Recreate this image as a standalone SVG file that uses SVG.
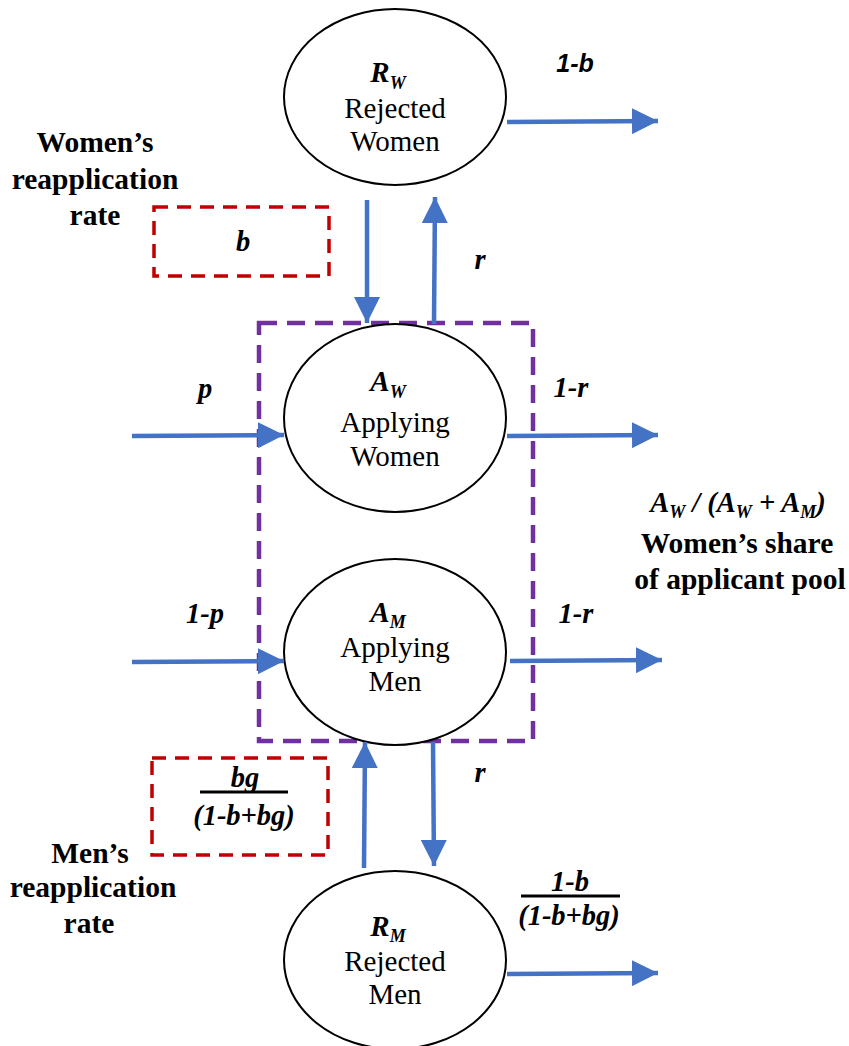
<svg xmlns="http://www.w3.org/2000/svg" width="849" height="1046" viewBox="0 0 849 1046">
<style>
.node{fill:#fff;stroke:#000;stroke-width:2}
.conn{stroke:#4472C4;stroke-width:4.5;fill:none;marker-end:url(#ah)}
.t{font-family:"Liberation Serif","Times New Roman",serif;font-size:29px;fill:#000;text-anchor:middle}
.bi{font-family:"Liberation Serif","Times New Roman",serif;font-size:28.5px;font-weight:bold;font-style:italic;fill:#000;text-anchor:middle}
.nl{font-size:29px}
.sub{font-size:18px}
.lab{font-family:"Liberation Serif","Times New Roman",serif;font-size:29.5px;font-weight:bold;fill:#000;text-anchor:middle}
.sans{font-family:"Liberation Sans",Arial,sans-serif;font-size:25px;font-weight:bold;font-style:italic;fill:#000;text-anchor:middle}
.red{fill:none;stroke:#C00000;stroke-width:3.5;stroke-dasharray:14 9}
.pur{fill:none;stroke:#7030A0;stroke-width:4.5;stroke-dasharray:18 10}
.frac{stroke:#000;stroke-width:3}
</style>
<defs>
<marker id="ah" markerUnits="userSpaceOnUse" markerWidth="28" markerHeight="26" refX="26" refY="13" orient="auto">
<path d="M0,0 L26,13 L0,26 Z" fill="#4472C4"/>
</marker>
</defs>
<rect width="849" height="1046" fill="#fff"/>

<g id="group-box">
<rect class="pur" x="259" y="323" width="274" height="418"/>
</g>
<g id="box-women-rate">
<rect class="red" x="154" y="207" width="175" height="69"/>
<text class="bi" x="243" y="251">b</text>
</g>
<g id="box-men-rate">
<rect class="red" x="152" y="758" width="176" height="97"/>
<text class="bi" x="245" y="787">bg</text>
<line class="frac" x1="200" y1="792" x2="288" y2="792"/>
<text class="bi" x="244" y="825">(1-b+bg)</text>
</g>

<g id="node-rw">
<ellipse class="node" cx="395" cy="97" rx="111" ry="88"/>
<text class="bi nl" x="388" y="82">R<tspan class="sub" dy="7">W</tspan></text>
<text class="t" x="395" y="118">Rejected</text>
<text class="t" x="395" y="151">Women</text>
</g>
<g id="node-aw">
<ellipse class="node" cx="395" cy="418" rx="111" ry="94"/>
<text class="bi nl" x="388" y="391">A<tspan class="sub" dy="7">W</tspan></text>
<text class="t" x="395" y="432">Applying</text>
<text class="t" x="395" y="466">Women</text>
</g>
<g id="node-am">
<ellipse class="node" cx="395" cy="652" rx="111" ry="93"/>
<text class="bi nl" x="388" y="622">A<tspan class="sub" dy="6">M</tspan></text>
<text class="t" x="395" y="657">Applying</text>
<text class="t" x="395" y="691">Men</text>
</g>
<g id="node-rm">
<ellipse class="node" cx="395" cy="960" rx="111" ry="89"/>
<text class="bi nl" x="388" y="936">R<tspan class="sub" dy="6">M</tspan></text>
<text class="t" x="395" y="971">Rejected</text>
<text class="t" x="395" y="1004">Men</text>
</g>

<g id="connectors">
<line class="conn" x1="367" y1="200" x2="367" y2="323"/>
<line class="conn" x1="434" y1="324" x2="435" y2="197"/>
<line class="conn" x1="507" y1="122" x2="658" y2="121"/>
<line class="conn" x1="132" y1="436" x2="284" y2="435"/>
<line class="conn" x1="507" y1="436" x2="658" y2="435"/>
<line class="conn" x1="132" y1="662" x2="284" y2="661"/>
<line class="conn" x1="510" y1="661" x2="662" y2="660"/>
<line class="conn" x1="364" y1="868" x2="365" y2="742"/>
<line class="conn" x1="433" y1="742" x2="434" y2="866"/>
<line class="conn" x1="507" y1="974" x2="658" y2="973"/>
</g>

<g id="labels">
<text class="sans" x="575" y="72">1-b</text>
<text class="bi" x="480" y="269">r</text>
<text class="bi" x="205" y="398">p</text>
<text class="bi" x="571" y="397">1-r</text>
<text class="bi" x="205" y="623">1-p</text>
<text class="bi" x="576" y="623">1-r</text>
<text class="bi" x="480" y="782">r</text>
<text class="bi" x="570" y="891">1-b</text>
<line class="frac" x1="521" y1="896" x2="620" y2="896"/>
<text class="bi" x="569" y="925">(1-b+bg)</text>
<text class="lab" x="95" y="152">Women’s</text>
<text class="lab" x="95" y="189">reapplication</text>
<text class="lab" x="95" y="225">rate</text>
<text class="lab" x="90" y="863">Men’s</text>
<text class="lab" x="93" y="897">reapplication</text>
<text class="lab" x="89" y="933">rate</text>
<text class="bi" x="738" y="512" font-size="30">A<tspan class="sub" dy="6" font-size="19">W</tspan><tspan dy="-6"> / (A</tspan><tspan class="sub" dy="6">W</tspan><tspan dy="-6"> + A</tspan><tspan class="sub" dy="6">M</tspan><tspan dy="-6">)</tspan></text>
<text class="lab" x="737" y="553">Women’s share</text>
<text class="lab" x="740" y="589">of applicant pool</text>
</g>
</svg>
